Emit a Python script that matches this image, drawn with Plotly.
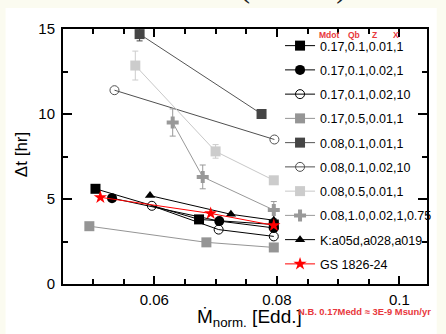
import plotly.graph_objects as go

# ---- data ----
s1_x = [0.0504, 0.0673, 0.0795]; s1_y = [5.6, 3.8, 3.5]
s2_x = [0.0531, 0.0706, 0.0795]; s2_y = [5.05, 3.7, 3.3]
s3_x = [0.0596, 0.0705, 0.0795]; s3_y = [4.6, 3.2, 2.8]
s4_x = [0.0494, 0.0685, 0.0795]; s4_y = [3.4, 2.45, 2.15]
s5_x = [0.0576, 0.0775]; s5_y = [14.7, 10.0]; s5_e = [0.4, 0.0]
s6_x = [0.0535, 0.0796]; s6_y = [11.4, 8.5]
s7_x = [0.0569, 0.0700, 0.0795]; s7_y = [12.85, 7.8, 6.1]; s7_e = [0.85, 0.4, 0.0]
s8_x = [0.0630, 0.0679, 0.0795]; s8_y = [9.5, 6.3, 4.35]; s8_e = [0.8, 0.7, 0.5]
k_x = [0.0593, 0.0725, 0.0795]; k_y = [5.2, 4.1, 3.75]
gs_x = [0.0512, 0.0692, 0.0795]; gs_y = [5.1, 4.15, 3.45]

names = ["0.17,0.1,0.01,1", "0.17,0.1,0.02,1", "0.17,0.1,0.02,10", "0.17,0.5,0.01,1",
         "0.08,0.1,0.01,1", "0.08,0.1,0.02,10", "0.08,0.5,0.01,1", "0.08,1.0,0.02,1,0.75",
         "K:a05d,a028,a019", "GS 1826-24"]

RED = "#e8383c"
CREAM = "#fbfbf0"
FONT = "Liberation Sans, Arial, sans-serif"

fig = go.Figure()

def add(x, y, name, symbol, color, size, linecolor, err=None, open_=False, g=0):
    mk = dict(symbol=symbol, size=size, color=color)
    if open_:
        mk = dict(symbol=symbol, size=size, color=color, line=dict(color=color, width=1))
    tr = go.Scatter(x=x, y=y, name=name, mode="lines+markers",
                    line=dict(color=linecolor, width=1), marker=mk,
                    legendgroup=str(g), hoverinfo="skip")
    if err is not None:
        tr.error_y = dict(type="data", array=err, color=color, thickness=1, width=3)
    fig.add_trace(tr)

add(s1_x, s1_y, names[0], "square", "#000000", 10, "#000000", g=1)
add(s2_x, s2_y, names[1], "circle", "#000000", 10, "#000000", g=2)
add(s3_x, s3_y, names[2], "circle-open", "#000000", 9, "#000000", open_=True, g=3)
add(s4_x, s4_y, names[3], "square", "#959595", 10, "#959595", g=4)
add(s5_x, s5_y, names[4], "square", "#454545", 10, "#555555", err=s5_e, g=5)
add(s6_x, s6_y, names[5], "circle-open", "#505050", 9, "#505050", open_=True, g=6)
add(s7_x, s7_y, names[6], "square", "#cccccc", 10, "#c8c8c8", err=s7_e, g=7)
add(s8_x, s8_y, names[7], "cross", "#999999", 10, "#999999", err=s8_e, g=8)
add(k_x, k_y, names[8], "triangle-up", "#000000", 9, "#000000", g=9)
add(gs_x, gs_y, names[9], "star", "#ff0000", 10, "#ff0000", g=10)

# geometry helpers (plot area: x 63..437 px, y 29..284 px)
L, R, T, B = 63, 9, 29, 50
W, H = 446, 334
PW, PH = W - L - R, H - T - B
def px(xp): return (xp - L) / PW
def py(yp): return (H - B - yp) / PH

axis_common = dict(showline=True, linewidth=2, linecolor="black", mirror="ticks",
                   ticks="inside", tickcolor="black", tickwidth=1.5, showgrid=False,
                   zeroline=False, tickfont=dict(family=FONT, size=15, color="black"))

fig.update_xaxes(range=[0.0451, 0.1045], tickvals=[0.06, 0.08, 0.1],
                 ticktext=["0.06", "0.08", "0.1"], ticklen=8, ticklabelstandoff=1,
                 minor=dict(ticks="inside", ticklen=5, tickwidth=1.5, tickcolor="black",
                            dtick=0.005, tick0=0.05),
                 **axis_common)
fig.update_yaxes(range=[0, 15], tickvals=[0, 5, 10, 15], ticklen=9, ticklabelstandoff=3,
                 minor=dict(ticks="inside", ticklen=5, tickwidth=1.5, tickcolor="black",
                            dtick=2.5, tick0=0),
                 **axis_common)

annotations = [
    dict(text="Ṁ<sub>norm.</sub> [Edd.]", x=px(199), y=py(318), xanchor="left", yanchor="middle",
         font=dict(family=FONT, size=19, color="black")),
    dict(text="Δt [hr]", x=px(20), y=py(155), textangle=-90, xanchor="center", yanchor="middle",
         font=dict(family=FONT, size=17, color="black")),
    dict(text="<b>N.B. 0.17Medd ≈ 3E-9 Msun/yr</b>", x=px(302), y=py(311), xanchor="left",
         yanchor="middle", font=dict(family=FONT, size=9.4, color=RED)),
    dict(text="<b>Mdot</b>", x=px(324), y=py(35), xanchor="left", yanchor="middle",
         font=dict(family=FONT, size=8.5, color=RED)),
    dict(text="<b>Qb</b>", x=px(354), y=py(35), xanchor="left", yanchor="middle",
         font=dict(family=FONT, size=8.5, color=RED)),
    dict(text="<b>Z</b>", x=px(378), y=py(35), xanchor="left", yanchor="middle",
         font=dict(family=FONT, size=8.5, color=RED)),
    dict(text="<b>X</b>", x=px(400), y=py(35), xanchor="left", yanchor="middle",
         font=dict(family=FONT, size=8.5, color=RED)),
    dict(text="Meisel 2018 (MESA)", x=px(76), y=py(6), xanchor="left", yanchor="bottom",
         font=dict(family="Liberation Serif, serif", size=31, color="#222222")),
    dict(text="•", x=px(50), y=py(4), xanchor="left", yanchor="bottom",
         font=dict(family="Liberation Serif, serif", size=24, color="#8a8aa0")),
]
for a in annotations:
    a.update(xref="paper", yref="paper", showarrow=False)

fig.update_layout(
    width=W, height=H,
    margin=dict(l=L, r=R, t=T, b=B, pad=0),
    paper_bgcolor=CREAM, plot_bgcolor="white",
    font=dict(family=FONT, color="black"),
    showlegend=True, hovermode=False,
    legend=dict(x=px(286), y=py(31), xanchor="left", yanchor="top",
                bgcolor="rgba(0,0,0,0)", borderwidth=0,
                font=dict(family=FONT, size=12.5, color="black"),
                tracegroupgap=5, itemwidth=30),
    annotations=annotations,
    shapes=[dict(type="rect", xref="paper", yref="paper", x0=px(4), x1=px(447),
                 y0=py(335), y1=py(8), fillcolor="white", line=dict(width=0), layer="below")],
)

fig.write_html("out.html", config={"displayModeBar": False},
               post_script="document.body.style.margin='0';document.body.style.background='%s';" % CREAM)
